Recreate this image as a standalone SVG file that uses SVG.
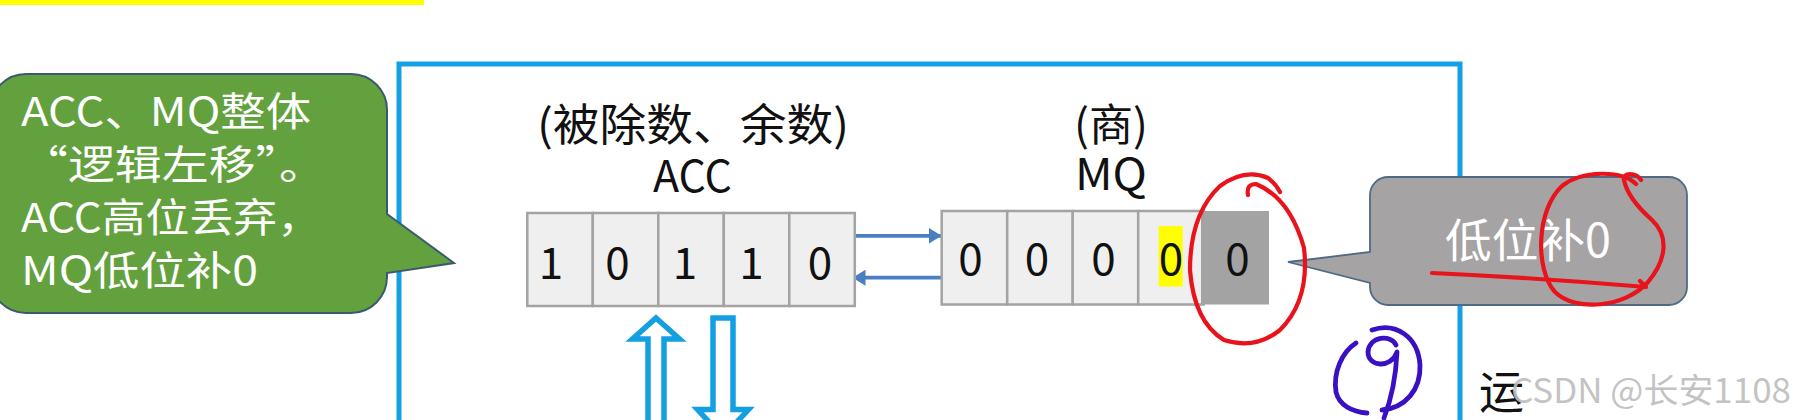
<svg xmlns="http://www.w3.org/2000/svg" width="1795" height="420" viewBox="0 0 1795 420">
<defs>
<style>
.cjk{font-family:"Noto Sans CJK SC","Noto Sans",sans-serif}
.cell{fill:#EFEFEF;stroke:#A3A3A3;stroke-width:2.5}
.dig{font-family:"Noto Sans CJK SC","Noto Sans",sans-serif;font-size:44px;fill:#111;text-anchor:middle}
.hdr{font-family:"Noto Sans CJK SC","Noto Sans",sans-serif;font-size:44px;fill:#111}
.wt{font-family:"Noto Sans CJK SC","Noto Sans",sans-serif;fill:#FFFFFF}
.red{fill:none;stroke:#E8131B;stroke-width:4.2;stroke-linecap:round;stroke-linejoin:round}
.pur{fill:none;stroke:#3A10C4;stroke-width:4.8;stroke-linecap:round;stroke-linejoin:round}
.hollow{fill:#FFFFFF;stroke:#12A0E3;stroke-width:5.5;stroke-linejoin:miter}
.link{stroke:#4A7FC1;stroke-width:3.8;fill:none}
</style>
<marker id="ah" viewBox="0 0 13 16" refX="13" refY="8" markerWidth="13" markerHeight="16" markerUnits="userSpaceOnUse" orient="auto">
<path d="M0,0 L13,8 L0,16 Z" fill="#4A7FC1"/>
</marker>
</defs>
<rect width="1795" height="420" fill="#FFFFFF"/>
<rect id="topbar" x="0" y="0" width="424" height="5" fill="#FFFF00"/>

<g id="frame">
<path d="M399,425 V64 H1460 V425" fill="none" stroke="#14A0E2" stroke-width="5"/>
</g>

<g id="connectors">
<line class="link" x1="854" y1="235.8" x2="941.5" y2="235.8" marker-end="url(#ah)"/>
<line class="link" x1="944" y1="277.7" x2="852.5" y2="277.7" marker-end="url(#ah)"/>
<polygon class="hollow" points="656,318 679.5,339 664,339 664,430 648,430 648,339 632.5,339"/>
<polygon class="hollow" points="713,318 733,318 733,409.5 748.5,409.5 723,437 697.5,409.5 713,409.5"/>
</g>

<g id="acc">
<text class="hdr" x="537" y="141" textLength="312" lengthAdjust="spacingAndGlyphs">(被除数、余数)</text>
<text class="hdr" x="692.5" y="192" text-anchor="middle" textLength="79" lengthAdjust="spacingAndGlyphs">ACC</text>
<rect class="cell" x="527.3" y="213" width="65.5" height="93"/>
<rect class="cell" x="592.8" y="213" width="65.5" height="93"/>
<rect class="cell" x="658.3" y="213" width="65.5" height="93"/>
<rect class="cell" x="723.8" y="213" width="65.5" height="93"/>
<rect class="cell" x="789.3" y="213" width="65.5" height="93"/>
<text class="dig" x="551" y="279">1</text>
<text class="dig" x="617.5" y="279">0</text>
<text class="dig" x="685" y="279">1</text>
<text class="dig" x="751.5" y="279">1</text>
<text class="dig" x="820" y="279">0</text>
</g>

<g id="mq">
<text class="hdr" x="1111" y="141" text-anchor="middle" textLength="74" lengthAdjust="spacingAndGlyphs">(商)</text>
<text class="hdr" x="1111" y="190" text-anchor="middle" textLength="72" lengthAdjust="spacingAndGlyphs">MQ</text>
<rect class="cell" x="941.7" y="211" width="65.5" height="93.5"/>
<rect class="cell" x="1007.2" y="211" width="65.5" height="93.5"/>
<rect class="cell" x="1072.7" y="211" width="65.5" height="93.5"/>
<rect class="cell" x="1138.2" y="211" width="65.5" height="93.5"/>
<rect x="1201" y="211" width="68" height="93.5" fill="#A3A3A3"/>
<rect x="1158.7" y="226" width="24" height="60.5" fill="#FFFF00"/>
<text class="dig" x="970.5" y="275">0</text>
<text class="dig" x="1037" y="275">0</text>
<text class="dig" x="1103.5" y="275">0</text>
<text class="dig" x="1171" y="275">0</text>
<text class="dig" x="1237.5" y="275">0</text>
</g>

<g id="callout-green">
<path d="M26,74 H351 A36,36 0 0 1 387,110 V214 L454,263 L387,273 V277 A36,36 0 0 1 351,313 H26 A36,36 0 0 1 -10,277 V110 A36,36 0 0 1 26,74 Z" fill="#63A13E" stroke="#3A5A70" stroke-width="2"/>
<text class="wt" x="21" y="126" font-size="40" textLength="290" lengthAdjust="spacingAndGlyphs">ACC、MQ整体</text>
<text class="wt" x="21" y="179" font-size="40" textLength="305" lengthAdjust="spacingAndGlyphs">“逻辑左移”。</text>
<text class="wt" x="21" y="232" font-size="40" textLength="300" lengthAdjust="spacingAndGlyphs">ACC高位丢弃，</text>
<text class="wt" x="21" y="285" font-size="40" textLength="237" lengthAdjust="spacingAndGlyphs">MQ低位补0</text>
</g>

<g id="callout-gray">
<path d="M1388,177 H1669 A18,18 0 0 1 1687,195 V287 A18,18 0 0 1 1669,305 H1388 A18,18 0 0 1 1370,287 V283 L1288,262 L1370,252 V195 A18,18 0 0 1 1388,177 Z" fill="#A5A3A4" stroke="#4F6A85" stroke-width="1.8"/>
<text class="wt" x="1445" y="257" font-size="46" textLength="166" lengthAdjust="spacingAndGlyphs">低位补0</text>
</g>

<g id="annotations">
<path class="red" d="M1248,195 Q1246,184 1256,184 Q1290,198 1304,248 Q1310,300 1280,330 Q1255,350 1224,340 Q1194,322 1190,270 Q1190,214 1220,186 Q1245,168 1268,178 Q1276,184 1280,192"/>
<path class="red" d="M1432,273 Q1540,278 1646,287 L1640,281"/>
<path class="red" d="M1636,184 C1622,170 1582,170 1562,186 C1536,210 1535,270 1555,292 C1575,312 1625,308 1648,282 C1668,258 1668,235 1652,220 C1634,204 1626,190 1624,180 C1622,172 1636,172 1641,180"/>
<path class="pur" d="M1356,343 C1342,352 1333,372 1336,392 C1339,405 1352,412 1367,413"/>
<path class="pur" d="M1372,330 C1395,322 1418,336 1420,365 C1421,390 1405,408 1382,410"/>
<path class="pur" d="M1396,345 C1391,334 1369,336 1368,352 C1368,367 1391,369 1397,352 C1396,375 1391,400 1384,418"/>
</g>

<g id="side-text">
<text class="cjk" x="1479" y="409" font-size="45" fill="#111">运</text>
<text class="cjk" x="1511" y="403" font-size="34" fill="#BDBDBD" fill-opacity="0.92" textLength="280" lengthAdjust="spacingAndGlyphs">CSDN @长安1108</text>
</g>
</svg>
